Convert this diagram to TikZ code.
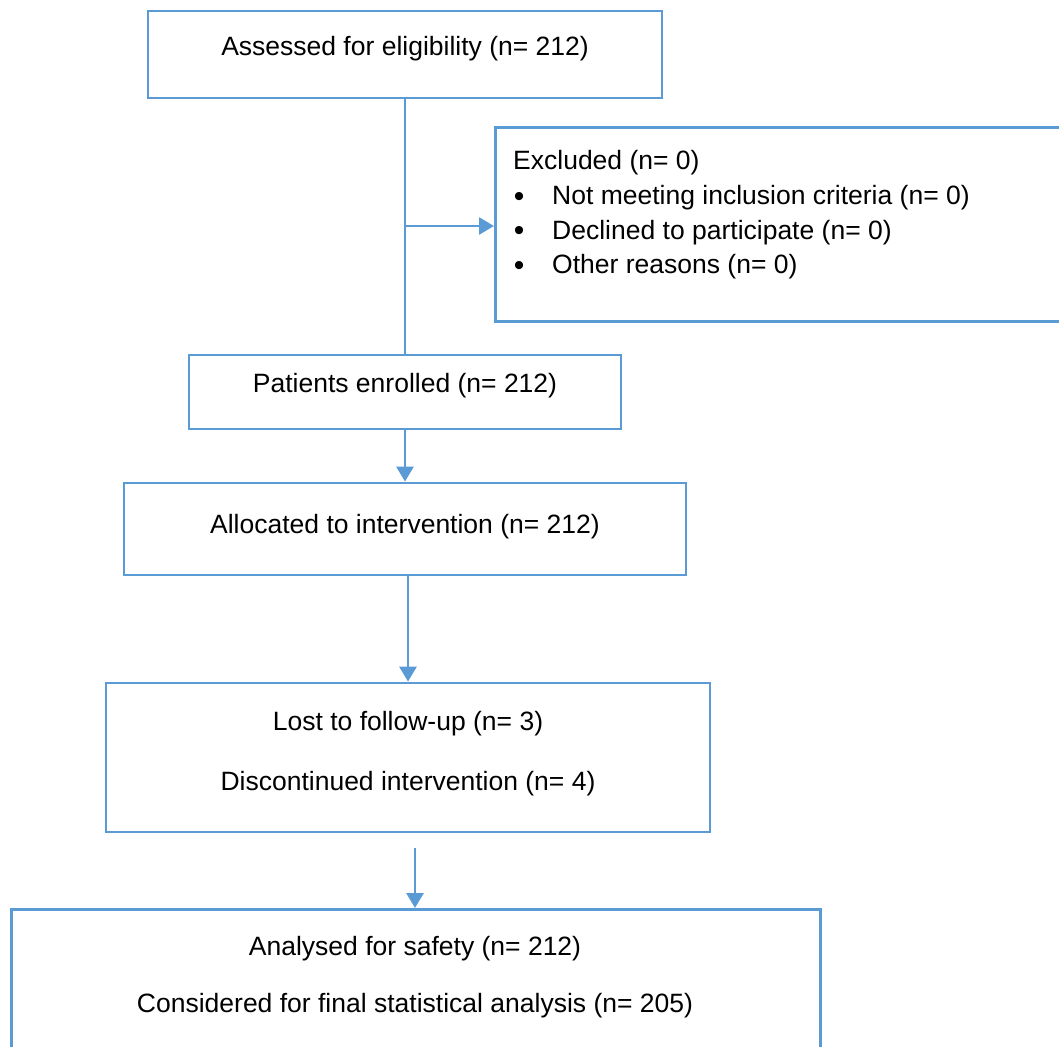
\documentclass[tikz,border=0pt]{standalone}
\usepackage{fontspec}
\setmainfont{Liberation Sans}
\usetikzlibrary{arrows.meta}
\definecolor{flowblue}{HTML}{5B9BD5}
\begin{document}
\begin{tikzpicture}[x=1pt,y=-1pt,
  box/.style={draw=flowblue, line width=2.8pt, rectangle, inner sep=0pt},
  lbl/.style={font=\fontsize{26.5}{30}\selectfont, inner sep=0pt},
  bul/.style={font=\fontsize{30}{30}\selectfont, inner sep=0pt},
  conn/.style={draw=flowblue, line width=2.8pt},
  arr/.style={conn, -{Triangle[length=15pt,width=17pt]}}]
\clip (0,0) rectangle (1059,1046);
\fill[white] (0,0) rectangle (1059,1046);
% boxes
\node[box, minimum width=514pt, minimum height=87pt] (a) at (405,54.5) {};
\node[box, minimum width=590pt, minimum height=194pt, anchor=north west] (ex) at (494,126) {};
\node[box, minimum width=432pt, minimum height=74pt] (pe) at (405,392) {};
\node[box, minimum width=562pt, minimum height=92pt] (al) at (405,529) {};
\node[box, minimum width=604pt, minimum height=149pt] (lo) at (408,757.5) {};
\node[box, minimum width=809pt, minimum height=160pt, anchor=north west] (an) at (10,908) {};
% texts
\node[lbl] (ta) at (405,49) {Assessed for eligibility (n= 212)};
\node[lbl, anchor=west] (tex) at (513,163) {Excluded (n= 0)};
\node[bul] (b1) at (519,199) {•};
\node[bul] (b2) at (519,233.5) {•};
\node[bul] (b3) at (519,268) {•};
\node[lbl, anchor=west] (t1) at (552,198) {Not meeting inclusion criteria (n= 0)};
\node[lbl, anchor=west] (t2) at (552,232.5) {Declined to participate (n= 0)};
\node[lbl, anchor=west] (t3) at (552,267) {Other reasons (n= 0)};
\node[lbl] (tpe) at (405,386) {Patients enrolled (n= 212)};
\node[lbl] (tal) at (405,527) {Allocated to intervention (n= 212)};
\node[lbl] (tlo1) at (408,724) {Lost to follow-up (n= 3)};
\node[lbl] (tlo2) at (408,784) {Discontinued intervention (n= 4)};
\node[lbl] (tan1) at (415,949) {Analysed for safety (n= 212)};
\node[lbl] (tan2) at (415,1006) {Considered for final statistical analysis (n= 205)};
% connectors
\coordinate (j) at (405,226);
\coordinate (s) at (415,848);
\draw[conn] (a.south) -- (pe.north);
\draw[arr] (j) -- (j -| ex.west);
\draw[arr] (pe.south) -- (al.north);
\draw[arr] (408,575) -- (lo.north);
\draw[arr] (s) -- (s |- an.north);
\end{tikzpicture}
\end{document}
